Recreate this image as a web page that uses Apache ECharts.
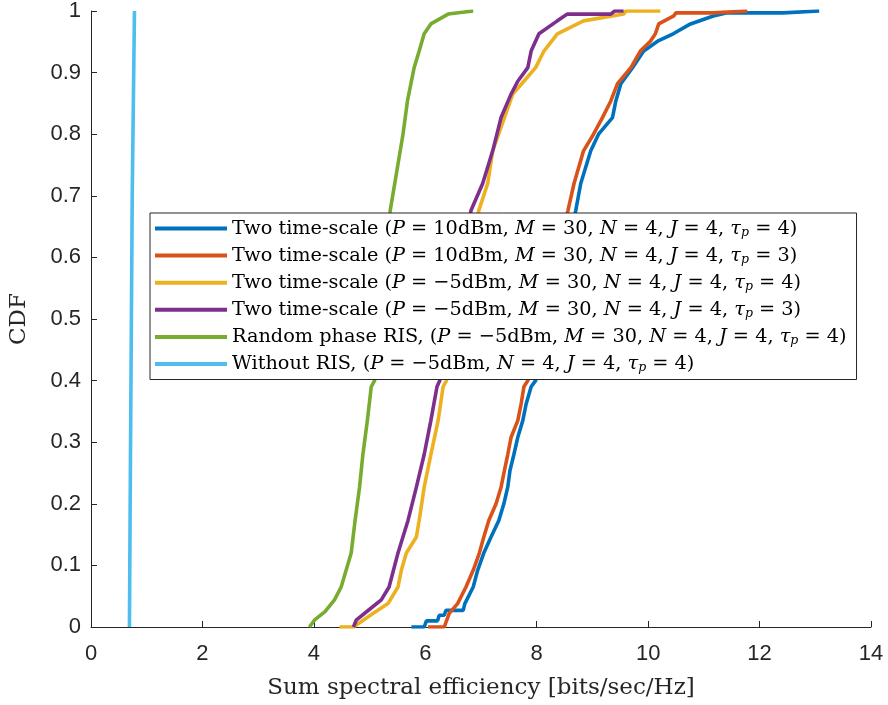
<!DOCTYPE html>
<html>
<head>
<meta charset="utf-8">
<script src="https://cdn.jsdelivr.net/npm/echarts@6/dist/echarts.min.js"></script>
<style>html,body{margin:0;padding:0;background:#fff}#c{width:888px;height:705px}</style>
</head>
<body>
<div id="c"></div>
<script>
// ---- data ----
const xTicks = [0, 2, 4, 6, 8, 10, 12, 14];
const yTicks = [0, 0.1, 0.2, 0.3, 0.4, 0.5, 0.6, 0.7, 0.8, 0.9, 1];

const blueX = [5.75, 5.98, 6.02, 6.22, 6.25, 6.34, 6.37, 6.68, 6.71, 6.86, 6.94, 7.05, 7.18, 7.32, 7.41, 7.48, 7.52, 7.59, 7.66, 7.75, 7.81, 7.90, 7.98, 8.70, 8.79, 8.97, 9.11, 9.36, 9.42, 9.51, 9.72, 9.92, 10.17, 10.45, 10.76, 11.17, 11.42, 12.42, 12.45, 13.07];
const blueY = [0, 0, 0.010, 0.010, 0.019, 0.019, 0.027, 0.027, 0.038, 0.065, 0.092, 0.12, 0.146, 0.173, 0.2, 0.227, 0.254, 0.28, 0.308, 0.335, 0.362, 0.39, 0.40, 0.676, 0.72, 0.773, 0.80, 0.827, 0.854, 0.882, 0.908, 0.935, 0.951, 0.963, 0.979, 0.992, 0.997, 0.997, 1.0, 1.0];

const orangeX = [6.05, 6.34, 6.43, 6.58, 6.73, 6.86, 6.97, 7.05, 7.14, 7.27, 7.36, 7.42, 7.48, 7.54, 7.66, 7.72, 7.77, 7.84, 8.56, 8.67, 8.84, 9.02, 9.18, 9.33, 9.45, 9.69, 9.86, 10.04, 10.13, 10.19, 10.46, 10.50, 11.17, 11.20, 11.78];
const orangeY = [0, 0, 0.022, 0.038, 0.065, 0.092, 0.12, 0.146, 0.173, 0.2, 0.227, 0.254, 0.28, 0.308, 0.335, 0.362, 0.39, 0.40, 0.676, 0.72, 0.773, 0.80, 0.827, 0.854, 0.882, 0.908, 0.935, 0.951, 0.963, 0.979, 0.992, 0.997, 0.997, 1.0, 1.0];

const yellowX = [4.46, 4.71, 5.06, 5.33, 5.51, 5.57, 5.66, 5.84, 5.89, 5.98, 6.10, 6.23, 6.32, 6.38, 6.96, 7.12, 7.21, 7.42, 7.57, 7.77, 7.98, 8.13, 8.37, 8.84, 9.56, 9.60, 10.22];
const yellowY = [0, 0, 0.022, 0.038, 0.065, 0.092, 0.12, 0.146, 0.173, 0.227, 0.28, 0.335, 0.39, 0.40, 0.676, 0.72, 0.773, 0.827, 0.865, 0.886, 0.908, 0.935, 0.963, 0.984, 0.995, 1.0, 1.0];

const purpleX = [4.71, 4.76, 4.99, 5.21, 5.35, 5.51, 5.69, 5.84, 5.98, 6.10, 6.21, 6.26, 6.82, 7.03, 7.21, 7.36, 7.54, 7.66, 7.84, 7.90, 8.04, 8.37, 8.55, 9.33, 9.40, 9.56];
const purpleY = [0, 0.011, 0.028, 0.044, 0.065, 0.12, 0.173, 0.227, 0.28, 0.335, 0.39, 0.40, 0.676, 0.72, 0.773, 0.827, 0.865, 0.886, 0.908, 0.935, 0.963, 0.984, 0.995, 0.995, 1.0, 1.0];

const greenX = [3.92, 4.01, 4.20, 4.37, 4.49, 4.67, 4.74, 4.82, 4.88, 4.96, 5.03, 5.09, 5.37, 5.50, 5.60, 5.68, 5.80, 5.89, 5.98, 6.10, 6.41, 6.86];
const greenY = [0, 0.011, 0.025, 0.044, 0.065, 0.12, 0.173, 0.227, 0.28, 0.335, 0.39, 0.40, 0.676, 0.746, 0.80, 0.854, 0.908, 0.935, 0.963, 0.979, 0.995, 1.0];

const cyanX = [0.69, 0.71, 0.74, 0.78];
const cyanY = [0, 0.3, 0.7, 1.0];

const seriesNames = ['s1', 's2', 's3', 's4', 's5', 's6'];
const legendLabels = [
  'Two time-scale ({i|P} = 10dBm, {i|M} = 30, {i|N} = 4, {i|J} = 4, {i|τ}{s|p} = 4)',
  'Two time-scale ({i|P} = 10dBm, {i|M} = 30, {i|N} = 4, {i|J} = 4, {i|τ}{s|p} = 3)',
  'Two time-scale ({i|P} = −5dBm, {i|M} = 30, {i|N} = 4, {i|J} = 4, {i|τ}{s|p} = 4)',
  'Two time-scale ({i|P} = −5dBm, {i|M} = 30, {i|N} = 4, {i|J} = 4, {i|τ}{s|p} = 3)',
  'Random phase RIS, ({i|P} = −5dBm, {i|M} = 30, {i|N} = 4, {i|J} = 4, {i|τ}{s|p} = 4)',
  'Without RIS, ({i|P} = −5dBm, {i|N} = 4, {i|J} = 4, {i|τ}{s|p} = 4)'
];
const colors = ['#0072BD', '#D95319', '#EDB120', '#7E2F8E', '#77AC30', '#4DBEEE'];
const xs = [blueX, orangeX, yellowX, purpleX, greenX, cyanX];
const ys = [blueY, orangeY, yellowY, purpleY, greenY, cyanY];

// ---- chart ----
const serif = '"DejaVu Serif", "Liberation Serif", serif';
const sans = '"Liberation Sans", Arial, sans-serif';
const chart = echarts.init(document.getElementById('c'), null, {renderer: 'canvas'});
const series = seriesNames.map((n, k) => ({
  name: n, type: 'line', showSymbol: false, symbol: 'none', animation: false,
  lineStyle: {width: 3.6, color: colors[k]}, itemStyle: {color: colors[k]},
  data: xs[k].map((x, j) => [x, ys[k][j]])
}));
const axisCol = '#262626';
chart.setOption({
  backgroundColor: '#fff',
  animation: false,
  grid: {left: 89, right: 17, top: 10, bottom: 78, containLabel: false},
  xAxis: {
    type: 'value', min: 0, max: 14, interval: 2,
    name: 'Sum spectral efficiency [bits/sec/Hz]', nameLocation: 'middle', nameGap: 50,
    nameTextStyle: {fontFamily: serif, fontSize: 23, color: axisCol},
    axisLine: {show: true, lineStyle: {color: axisCol, width: 1}},
    axisTick: {show: true, inside: true, length: 6, lineStyle: {color: axisCol}},
    axisLabel: {fontFamily: sans, fontSize: 22, color: axisCol, margin: 16,
      formatter: v => xTicks.includes(v) ? String(v) : ''},
    splitLine: {show: false}
  },
  yAxis: {
    type: 'value', min: 0, max: 1, interval: 0.1,
    name: 'CDF', nameLocation: 'middle', nameGap: 60, nameRotate: 90,
    nameTextStyle: {fontFamily: serif, fontSize: 23, color: axisCol},
    axisLine: {show: true, lineStyle: {color: axisCol, width: 1}},
    axisTick: {show: true, inside: true, length: 6, lineStyle: {color: axisCol}},
    axisLabel: {fontFamily: sans, fontSize: 22, color: axisCol, margin: 10,
      formatter: v => { const t = yTicks.find(a => Math.abs(a - v) < 1e-9); return t === undefined ? '' : String(+t.toFixed(1)); }},
    splitLine: {show: false}
  },
  legend: {
    orient: 'vertical', left: 150, top: 213,
    data: seriesNames,
    icon: 'rect', itemWidth: 72, itemHeight: 4, itemGap: 6.1,
    padding: [5, 10, 5, 5],
    backgroundColor: '#fff', borderColor: '#262626', borderWidth: 1, borderRadius: 0,
    formatter: n => legendLabels[seriesNames.indexOf(n)],
    textStyle: {
      fontFamily: serif, fontSize: 19.3, color: '#000', lineHeight: 20, padding: [0, 0, 0, 0],
      rich: {
        i: {fontFamily: serif, fontStyle: 'italic', fontSize: 19.3, lineHeight: 20, color: '#000'},
        s: {fontFamily: serif, fontStyle: 'italic', fontSize: 12.5, lineHeight: 20, color: '#000', padding: [8, 0, 0, 0]}
      }
    }
  },
  series: series
});
</script>
</body>
</html>
